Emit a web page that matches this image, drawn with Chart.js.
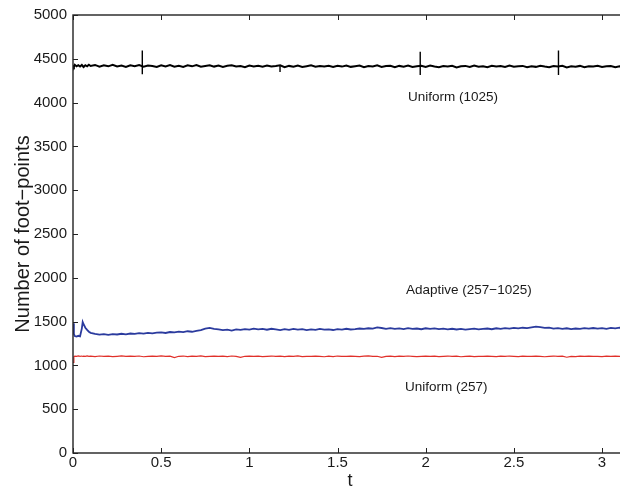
<!DOCTYPE html>
<html>
<head>
<meta charset="utf-8">
<script src="https://cdn.jsdelivr.net/npm/chart.js@4/dist/chart.umd.min.js"></script>
<style>
	body { margin: 0; overflow: hidden; background: #fff; }
	.graph-container { width: 640px; height: 490px; }
</style>
</head>
<body>
<div class="graph-container"><canvas id="foot-chart" width="640" height="490"></canvas></div>
<script>
// time samples (fine at the start for the adaptive transient)
const tValues = [
	0, 0.005, 0.01, 0.02, 0.03, 0.04, 0.05, 0.055, 0.06, 0.07, 0.08, 0.09,
	0.100,0.125,0.150,0.175,0.200,0.225,0.250,0.275,0.300,0.325,
	0.350,0.375,0.400,0.425,0.450,0.475,0.500,0.525,0.550,0.575,
	0.600,0.625,0.650,0.675,0.700,0.725,0.750,0.775,0.800,0.825,
	0.850,0.875,0.900,0.925,0.950,0.975,1.000,1.025,1.050,1.075,
	1.100,1.125,1.150,1.175,1.200,1.225,1.250,1.275,1.300,1.325,
	1.350,1.375,1.400,1.425,1.450,1.475,1.500,1.525,1.550,1.575,
	1.600,1.625,1.650,1.675,1.700,1.725,1.750,1.775,1.800,1.825,
	1.850,1.875,1.900,1.925,1.950,1.975,2.000,2.025,2.050,2.075,
	2.100,2.125,2.150,2.175,2.200,2.225,2.250,2.275,2.300,2.325,
	2.350,2.375,2.400,2.425,2.450,2.475,2.500,2.525,2.550,2.575,
	2.600,2.625,2.650,2.675,2.700,2.725,2.750,2.775,2.800,2.825,
	2.850,2.875,2.900,2.925,2.950,2.975,3.000,3.025,3.050,3.075,
	3.100,3.125,3.150
];

const uniform1025 = [
	4425,4410,4432,4415,4428,4412,4430,4418,4406,4427,4415,4433,
	4418,4430,4409,4425,4414,4431,4412,4422,4408,4427,
	4416,4429,4411,4424,4418,4406,4426,4413,4428,4410,
	4421,4407,4425,4414,4429,4409,4419,4426,4411,4423,
	4408,4420,4427,4412,4418,4405,4424,4413,4421,4409,
	4422,4411,4417,4426,4404,4419,4410,4423,4407,4416,
	4425,4409,4418,4413,4421,4406,4420,4411,4424,4408,
	4415,4422,4403,4418,4412,4425,4407,4417,4421,4405,
	4419,4410,4423,4406,4416,4420,4408,4422,4411,4404,
	4418,4413,4421,4402,4415,4419,4407,4423,4410,4416,
	4404,4420,4412,4417,4406,4422,4409,4414,4419,4403,
	4416,4408,4421,4411,4405,4418,4413,4420,4402,4415,
	4409,4419,4404,4416,4412,4421,4406,4414,4418,4403,
	4415,4408,4412
];

const adaptive = [
	1480,1360,1335,1330,1338,1332,1420,1495,1470,1430,1405,1385,
	1372,1360,1352,1356,1349,1358,1353,1361,1355,1364,
	1359,1368,1362,1371,1366,1374,1378,1370,1381,1376,
	1385,1379,1390,1384,1393,1402,1420,1428,1418,1410,
	1402,1409,1398,1412,1405,1415,1408,1420,1411,1416,
	1407,1418,1410,1403,1414,1406,1417,1409,1413,1402,
	1411,1405,1416,1408,1412,1404,1415,1409,1418,1410,
	1414,1421,1416,1424,1419,1433,1427,1418,1425,1416,
	1422,1414,1426,1418,1421,1413,1424,1417,1423,1415,
	1420,1412,1418,1410,1416,1408,1415,1419,1411,1417,
	1421,1413,1424,1417,1426,1420,1428,1422,1430,1425,
	1434,1442,1436,1428,1432,1420,1426,1418,1424,1415,
	1421,1416,1425,1419,1427,1420,1426,1418,1428,1422,
	1430,1424,1427
];

const uniform257 = [
	1035,1098,1106,1103,1108,1104,1107,1102,1106,1104,1108,1103,
	1105,1101,1107,1103,1106,1100,1104,1108,1102,1105,
	1103,1107,1099,1104,1106,1102,1108,1103,1105,1090,
	1104,1107,1101,1105,1103,1108,1100,1104,1106,1102,
	1105,1101,1107,1103,1092,1104,1106,1102,1105,1100,
	1104,1107,1102,1105,1101,1106,1103,1108,1100,1104,
	1102,1106,1103,1099,1105,1101,1107,1104,1102,1106,
	1103,1100,1105,1108,1102,1104,1091,1103,1106,1101,
	1105,1102,1107,1103,1100,1104,1106,1102,1105,1101,
	1104,1107,1102,1105,1099,1103,1106,1101,1104,1102,
	1106,1103,1100,1105,1102,1107,1104,1101,1105,1103,
	1102,1106,1103,1099,1104,1107,1102,1105,1093,1104,
	1101,1105,1103,1106,1102,1104,1100,1105,1103,1106,
	1102,1104,1103
];

// the short vertical glitches on the uniform (1025) curve
const spikeT = [0.393, 1.174, 1.969, 2.753];
const spikeHigh = [4595, 4425, 4580, 4595];
const spikeLow = [4325, 4350, 4315, 4315];

const xTicks = [0, 0.5, 1, 1.5, 2, 2.5, 3];
const xTickLabels = ['0', '0.5', '1', '1.5', '2', '2.5', '3'];
const yTicks = [0, 500, 1000, 1500, 2000, 2500, 3000, 3500, 4000, 4500, 5000];
const yTickLabels = ['0', '500', '1000', '1500', '2000', '2500', '3000', '3500', '4000', '4500', '5000'];

const labelText = ['Uniform (1025)', 'Adaptive (257\u22121025)', 'Uniform (257)'];
const labelT = [1.899, 1.888, 1.882];
const labelY = [4062, 1856, 753];

const X_MAX = 3.1416;
const FONT = '"Liberation Sans", Arial, sans-serif';
const TEXT_COLOR = '#1a1a1a';

const toPoints = (values) => values.map((v, i) => ({ x: tValues[i], y: v }));

const spikePoints = [];
for (let i = 0; i < spikeT.length; i++) {
	spikePoints.push({ x: spikeT[i], y: spikeHigh[i] });
	spikePoints.push({ x: spikeT[i], y: spikeLow[i] });
	spikePoints.push({ x: spikeT[i], y: null });
}

// box around the axes with inward ticks, matlab style
const framePlugin = {
	id: 'frame',
	afterDraw: (chart) => {
		const { ctx, chartArea } = chart;
		const { left, right, top, bottom } = chartArea;
		const xs = chart.scales.x;
		const ys = chart.scales.y;
		ctx.save();
		ctx.strokeStyle = '#222';
		ctx.lineWidth = 1.4;
		ctx.strokeRect(left, top, right - left, bottom - top);
		ctx.lineWidth = 1;
		ctx.beginPath();
		xTicks.forEach((v) => {
			const px = Math.round(xs.getPixelForValue(v)) + 0.5;
			ctx.moveTo(px, bottom); ctx.lineTo(px, bottom - 5);
			ctx.moveTo(px, top); ctx.lineTo(px, top + 5);
		});
		yTicks.forEach((v) => {
			const py = Math.round(ys.getPixelForValue(v)) + 0.5;
			ctx.moveTo(left, py); ctx.lineTo(left + 5, py);
			ctx.moveTo(right, py); ctx.lineTo(right - 5, py);
		});
		ctx.stroke();
		ctx.restore();
	}
};

const labelPlugin = {
	id: 'curveLabels',
	afterDatasetsDraw: (chart) => {
		const { ctx } = chart;
		ctx.save();
		ctx.font = '13.5px ' + FONT;
		ctx.fillStyle = TEXT_COLOR;
		ctx.textAlign = 'left';
		ctx.textBaseline = 'middle';
		labelText.forEach((txt, i) => {
			ctx.fillText(txt, chart.scales.x.getPixelForValue(labelT[i]), chart.scales.y.getPixelForValue(labelY[i]));
		});
		ctx.restore();
	}
};

const ctx = document.getElementById('foot-chart').getContext('2d');

const chart = new Chart(ctx, {
	type: 'line',
	data: {
		datasets: [
			{
				label: 'Uniform (1025)',
				data: toPoints(uniform1025),
				borderColor: '#000000',
				borderWidth: 2
			},
			{
				label: 'spikes',
				data: spikePoints,
				borderColor: '#000000',
				borderWidth: 1.4,
				spanGaps: false
			},
			{
				label: 'Adaptive (257-1025)',
				data: toPoints(adaptive),
				borderColor: '#2b3b9e',
				borderWidth: 1.8
			},
			{
				label: 'Uniform (257)',
				data: toPoints(uniform257),
				borderColor: '#e0302a',
				borderWidth: 1.2
			}
		]
	},
	options: {
		responsive: false,
		animation: false,
		devicePixelRatio: 1,
		layout: { padding: { top: 14, right: 13, left: 0, bottom: 0 } },
		elements: {
			point: { radius: 0 },
			line: { tension: 0, fill: false }
		},
		plugins: {
			legend: { display: false },
			tooltip: { enabled: false }
		},
		scales: {
			x: {
				type: 'linear',
				min: 0,
				max: X_MAX,
				grid: { display: false, drawTicks: false },
				border: { display: false },
				afterBuildTicks: (scale) => { scale.ticks = xTicks.map((v) => ({ value: v })); },
				afterFit: (scale) => { scale.height = 37; },
				ticks: {
					padding: 1,
					maxRotation: 0,
					autoSkip: false,
					color: TEXT_COLOR,
					font: { family: FONT, size: 15 },
					callback: (v) => xTickLabels[xTicks.indexOf(v)]
				},
				title: {
					display: true,
					text: 't',
					color: TEXT_COLOR,
					font: { family: FONT, size: 18, lineHeight: 1 },
					padding: { top: 0, bottom: 0 }
				}
			},
			y: {
				min: 0,
				max: 5000,
				grid: { display: false, drawTicks: false },
				border: { display: false },
				afterBuildTicks: (scale) => { scale.ticks = yTicks.map((v) => ({ value: v })); },
				afterFit: (scale) => { scale.width = 73; },
				ticks: {
					padding: 6,
					autoSkip: false,
					color: TEXT_COLOR,
					font: { family: FONT, size: 15 },
					callback: (v) => yTickLabels[yTicks.indexOf(v)]
				},
				title: {
					display: true,
					text: 'Number of foot\u2212points',
					color: TEXT_COLOR,
					font: { family: FONT, size: 20, lineHeight: 1.2 },
					padding: { top: 11, bottom: 0 }
				}
			}
		}
	},
	plugins: [framePlugin, labelPlugin]
});
</script>
</body>
</html>
